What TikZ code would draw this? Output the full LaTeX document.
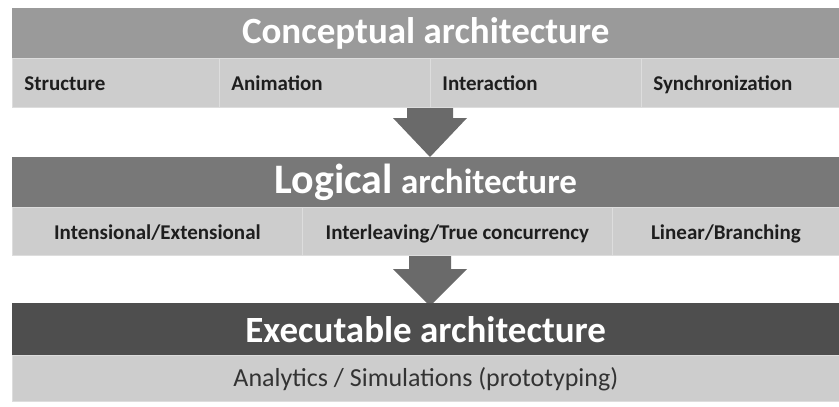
\documentclass[tikz,border=0pt]{standalone}
\usepackage{fontspec}
\setmainfont{Carlito}
\definecolor{hdrA}{HTML}{9A9A9A}
\definecolor{hdrB}{HTML}{787878}
\definecolor{hdrC}{HTML}{4E4E4E}
\definecolor{subbg}{HTML}{CDCDCD}
\definecolor{divc}{HTML}{DDDDDD}
\definecolor{arrowc}{HTML}{6A6A6A}
\definecolor{subtxt}{HTML}{1E1E1E}
\begin{document}
\begin{tikzpicture}[x=1pt,y=-1pt,
  hdr/.style={anchor=north west, minimum width=827pt, minimum height=50pt, inner sep=0pt, text=white, font=\bfseries\fontsize{37}{39}\selectfont},
  cell/.style={anchor=north west, fill=subbg, draw=divc, line width=0.8pt, minimum height=49pt, inner xsep=12pt, inner ysep=0pt, text height=18pt, text depth=2pt, text=subtxt},
  bold21/.style={font=\bfseries\fontsize{21}{23}\selectfont},
  blockarrow/.style={fill=arrowc}
]
\useasboundingbox (0,0) rectangle (839,407);
% arrows (behind bands)
\fill[blockarrow] (407,100) -- (453,100) -- (453,118) -- (467,118) -- (430,157) -- (393,118) -- (407,118) -- cycle;
\fill[blockarrow] (409,250) -- (451,250) -- (451,269) -- (467,269) -- (430,306) -- (393,269) -- (409,269) -- cycle;
% top band
\node[hdr, fill=hdrA] (h1) at (12,8) {Conceptual architecture};
\node[cell, bold21, minimum width=207pt, text width=183pt, align=left] (c1) at (12,58) {Structure};
\node[cell, bold21, minimum width=211pt, text width=187pt, align=left] (c2) at (219,58) {Animation};
\node[cell, bold21, minimum width=211pt, text width=187pt, align=left] (c3) at (430,58) {Interaction};
\node[cell, bold21, minimum width=198pt, text width=174pt, align=left] (c4) at (641,58) {Synchronization};
% logical band
\node[hdr, fill=hdrB, minimum height=50pt] (h2) at (12,157) {{\fontsize{42}{44}\selectfont Logical} {\fontsize{35}{37}\selectfont architecture}};
\node[cell, bold21, minimum width=290pt, minimum height=48pt, align=center] (l1) at (12,207) {Intensional/Extensional};
\node[cell, bold21, minimum width=310pt, minimum height=48pt, align=center] (l2) at (302,207) {Interleaving/True concurrency};
\node[cell, bold21, minimum width=227pt, minimum height=48pt, align=center] (l3) at (612,207) {Linear/Branching};
% executable band
\node[hdr, fill=hdrC, minimum height=52pt] (h3) at (12,303) {Executable architecture};
\node[cell, font=\fontsize{26}{28}\selectfont, minimum width=827pt, minimum height=46pt, text height=20pt, text depth=4pt, text=black!80] (e1) at (12,355) {Analytics / Simulations (prototyping)};
\end{tikzpicture}
\end{document}
